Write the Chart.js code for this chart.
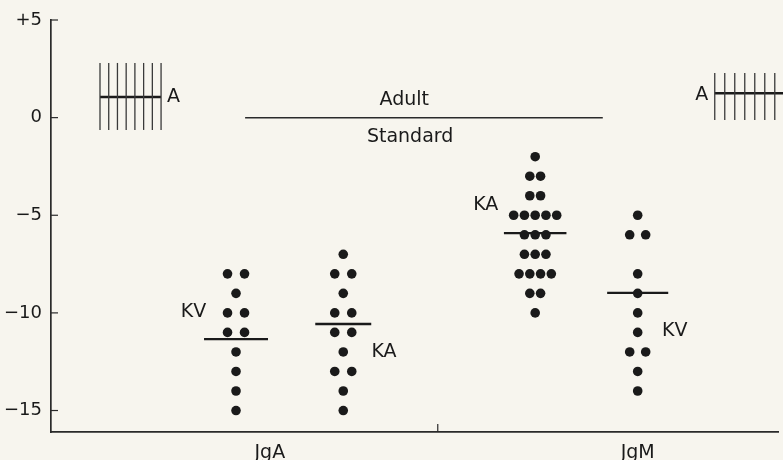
<!DOCTYPE html>
<html>
<head>
<meta charset="utf-8">
<script src="https://cdn.jsdelivr.net/npm/chart.js@4.4.1/dist/chart.umd.min.js"></script>
<style>
  html, body { margin: 0; padding: 0; background: #f7f5ee; }
  #wrap { width: 783px; height: 460px; position: relative; background: #f7f5ee; }
</style>
</head>
<body>
<div id="wrap"><canvas id="c" width="783" height="460"></canvas></div>
<script>
// ---- data ----
const yTicks = [5, 0, -5, -10, -15];
const yTickLabels = ['+5', '0', '\u22125', '\u221210', '\u221215'];
const groups = ['JgA', 'JgM'];
const groupLabelPos = [3.01, 8.07];
const groupDivider = 5.32;

// individual values (each dot one subject)
const jgaKV = [-8, -8, -9, -10, -10, -11, -11, -12, -13, -14, -15];
const jgaKA = [-7, -8, -8, -9, -10, -10, -11, -11, -12, -13, -13, -14, -15];
const jgmKA = [-2, -3, -3, -4, -4, -5, -5, -5, -5, -5, -6, -6, -6, -7, -7, -7, -8, -8, -8, -8, -9, -9, -10];
const jgmKV = [-5, -6, -6, -8, -9, -10, -11, -12, -12, -13, -14];

// group means drawn as horizontal bars
const means = [-11.34, -10.57, -5.91, -8.98];

// adult reference ranges ("A")
const adultLeft = { mean: 1.06, low: -0.63, high: 2.80 };
const adultRight = { mean: 1.25, low: -0.12, high: 2.29 };
const adultStandard = 0;

// ---- layout ----
const seriesX = [2.545, 4.02, 6.66, 8.07];
const seriesSpacing = [0.234, 0.234, 0.148, 0.22];
const meanHalf = [0.44, 0.385, 0.43, 0.42];
const seriesValues = [jgaKV, jgaKA, jgmKA, jgmKV];

function dotPoints(vals, cx, sp) {
  const counts = {};
  vals.forEach(v => counts[v] = (counts[v] || 0) + 1);
  const pts = [];
  Object.keys(counts).forEach(k => {
    const n = counts[k];
    for (let i = 0; i < n; i++) pts.push({ x: cx + (i - (n - 1) / 2) * sp, y: Number(k) });
  });
  return pts;
}

const INK = '#1a1a1a';
const datasets = [];
seriesValues.forEach((vals, i) => {
  datasets.push({
    data: dotPoints(vals, seriesX[i], seriesSpacing[i]),
    pointRadius: 4.8, pointBackgroundColor: INK, pointBorderWidth: 0, showLine: false
  });
  datasets.push({
    data: [{ x: seriesX[i] - meanHalf[i], y: means[i] }, { x: seriesX[i] + meanHalf[i], y: means[i] }],
    showLine: true, pointRadius: 0, borderColor: INK, borderWidth: 2.3
  });
});
// adult standard line
datasets.push({
  data: [{ x: 2.67, y: adultStandard }, { x: 7.59, y: adultStandard }],
  showLine: true, pointRadius: 0, borderColor: '#2a2a2a', borderWidth: 1.5
});
// hatched adult boxes
function hatch(box, x0, step, n, x1) {
  for (let k = 0; k < n; k++) {
    const x = x0 + k * step;
    datasets.push({
      data: [{ x: x, y: box.low }, { x: x, y: box.high }],
      showLine: true, pointRadius: 0, borderColor: '#3a3a3a', borderWidth: 1.3, clip: false
    });
  }
  datasets.push({
    data: [{ x: x0, y: box.mean }, { x: x1, y: box.mean }],
    showLine: true, pointRadius: 0, borderColor: INK, borderWidth: 2.4, clip: false
  });
}
hatch(adultLeft, 0.674, 0.12, 8, 1.513);
hatch(adultRight, 9.13, 0.1376, 7, 10.1);

const textLabels = [
  { t: 'KV', x: 1.96, y: -9.95 },
  { t: 'KA', x: 4.58, y: -12.0 },
  { t: 'KA', x: 5.98, y: -4.5 },
  { t: 'KV', x: 8.58, y: -10.93 },
  { t: 'A', x: 1.685, y: 1.03 },
  { t: 'A', x: 8.95, y: 1.16 },
  { t: 'Adult', x: 4.86, y: 0.90 },
  { t: 'Standard', x: 4.94, y: -0.99 }
];

const annot = {
  id: 'annot',
  afterDatasetsDraw(chart) {
    const { ctx, scales: { x, y } } = chart;
    ctx.save();
    ctx.fillStyle = INK;
    ctx.font = '19px "DejaVu Sans"';
    ctx.textAlign = 'center';
    ctx.textBaseline = 'middle';
    textLabels.forEach(l => ctx.fillText(l.t, x.getPixelForValue(l.x), y.getPixelForValue(l.y)));
    // y tick stubs
    ctx.strokeStyle = '#2a2a2a';
    ctx.lineWidth = 1.2;
    const left = chart.chartArea.left;
    yTicks.forEach(v => {
      const py = y.getPixelForValue(v);
      ctx.beginPath(); ctx.moveTo(left, py); ctx.lineTo(left + 7, py); ctx.stroke();
    });
    // divider tick on x axis
    const px = x.getPixelForValue(groupDivider);
    const b = chart.chartArea.bottom;
    ctx.beginPath(); ctx.moveTo(px, b); ctx.lineTo(px, b - 8); ctx.stroke();
    ctx.restore();
  }
};

new Chart(document.getElementById('c'), {
  type: 'scatter',
  data: { datasets },
  options: {
    responsive: false,
    animation: false,
    layout: { padding: { top: 20, right: 5, bottom: 0, left: 0 } },
    plugins: { legend: { display: false }, tooltip: { enabled: false } },
    scales: {
      x: {
        type: 'linear', min: 0, max: 10,
        grid: { display: false, drawTicks: false },
        border: { display: true, color: '#2a2a2a', width: 1.7 },
        afterBuildTicks: s => { s.ticks = groupLabelPos.map(v => ({ value: v })); },
        afterFit: s => { s.height = 28; },
        ticks: {
          padding: 10, color: INK, font: { family: 'DejaVu Sans', size: 19 },
          callback: (v, i) => groups[i], maxRotation: 0, autoSkip: false
        }
      },
      y: {
        type: 'linear', min: -16.1, max: 5,
        grid: { display: false, drawTicks: false },
        border: { display: true, color: '#2a2a2a', width: 1.7 },
        afterBuildTicks: s => { s.ticks = yTicks.map(v => ({ value: v })); },
        afterFit: s => { s.width = 51; },
        ticks: {
          padding: 9, color: INK, font: { family: 'DejaVu Sans', size: 18 },
          callback: (v, i) => yTickLabels[i], autoSkip: false
        }
      }
    }
  },
  plugins: [annot]
});
</script>
</body>
</html>
